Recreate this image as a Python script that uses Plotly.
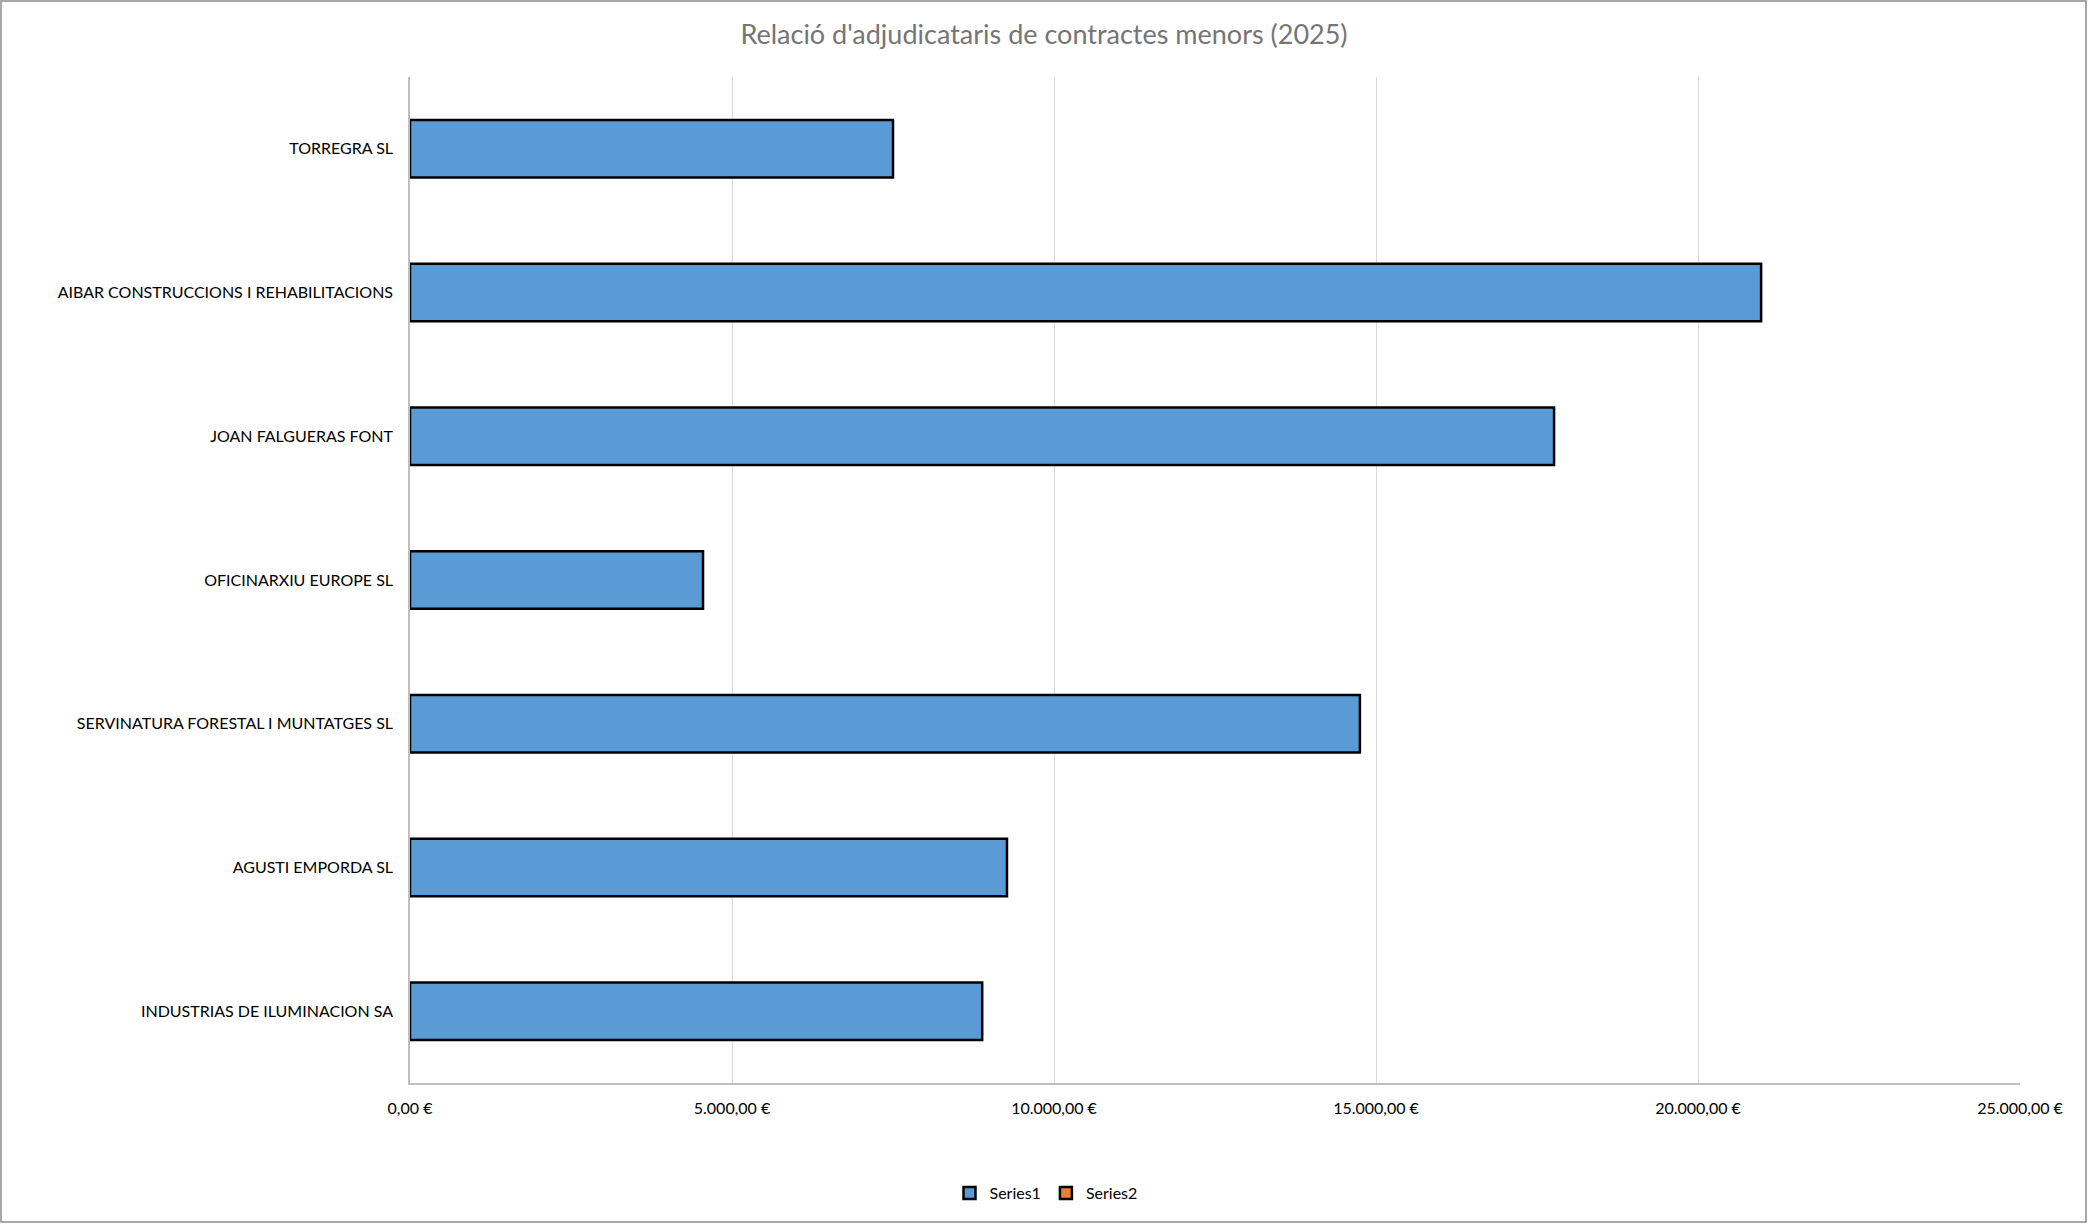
import plotly.graph_objects as go

categories = [
    "TORREGRA SL",
    "AIBAR CONSTRUCCIONS I REHABILITACIONS",
    "JOAN FALGUERAS FONT",
    "OFICINARXIU EUROPE SL",
    "SERVINATURA FORESTAL I MUNTATGES SL",
    "AGUSTI EMPORDA SL",
    "INDUSTRIAS DE ILUMINACION SA",
]
series1 = [7500, 20980, 17765, 4550, 14750, 9270, 8885]
series2 = [None] * len(categories)
tick_vals = [0, 5000, 10000, 15000, 20000, 25000]
tick_text = ["0,00 €", "5.000,00 €", "10.000,00 €", "15.000,00 €", "20.000,00 €", "25.000,00 €"]

W, H = 2088, 1224
ML, MR, MT, MB = 410, 68, 77, 141
pw = W - ML - MR
ph = H - MT - MB

FONT = "Lato"

fig = go.Figure()
fig.add_trace(go.Bar(
    y=categories, x=series1, orientation="h", name="Series1",
    marker=dict(color="#5B9BD5", line=dict(color="#000000", width=2.5)),
))
fig.add_trace(go.Bar(
    y=categories, x=series2, orientation="h", name="Series2",
    marker=dict(color="#ED7D31", line=dict(color="#000000", width=2.5)),
))

fig.update_layout(
    width=W, height=H,
    margin=dict(l=ML, r=MR, t=MT, b=MB, autoexpand=False),
    paper_bgcolor="white", plot_bgcolor="white",
    barmode="overlay", bargap=0.6,
    font=dict(family=FONT, size=16, color="#000000"),
    title=dict(
        text="Relació d'adjudicataris de contractes menors (2025)",
        x=0.5, xref="container", xanchor="center",
        y=1 - 35 / H, yref="container", yanchor="middle",
        font=dict(family=FONT, size=27, color="#757575"),
    ),
    xaxis=dict(
        range=[0, 25000], tickvals=tick_vals, ticktext=tick_text,
        showgrid=True, gridcolor="#D9D9D9", gridwidth=1,
        zeroline=False, showline=True, linecolor="#BFBFBF", linewidth=1.5,
        ticks="outside", ticklen=10, tickcolor="rgba(0,0,0,0)",
        tickfont=dict(size=16, color="#000000"),
        fixedrange=True,
    ),
    yaxis=dict(
        autorange="reversed", showgrid=False, zeroline=False,
        showline=True, linecolor="#BFBFBF", linewidth=1.5,
        ticks="outside", ticklen=12, tickcolor="rgba(0,0,0,0)",
        tickfont=dict(size=16, color="#000000"),
    ),
    legend=dict(
        orientation="h", x=(1046 - ML) / pw, xanchor="center",
        y=(MT + ph - 1193) / ph, yanchor="middle",
        font=dict(size=16, color="#000000"), traceorder="normal",
        itemwidth=30,
    ),
    showlegend=True,
)

fig.add_shape(
    type="rect", xref="paper", yref="paper",
    x0=(1 - ML) / pw, x1=(W - 2 - ML) / pw,
    y0=(MT + ph - (H - 2)) / ph, y1=(MT + ph - 1) / ph,
    line=dict(color="#8C8C8C", width=1.5), fillcolor="rgba(0,0,0,0)",
    layer="below",
)

fig.write_html(
    "out.html",
    config={"displayModeBar": False},
    post_script="document.body.style.margin='0';document.body.style.overflow='hidden';",
)
